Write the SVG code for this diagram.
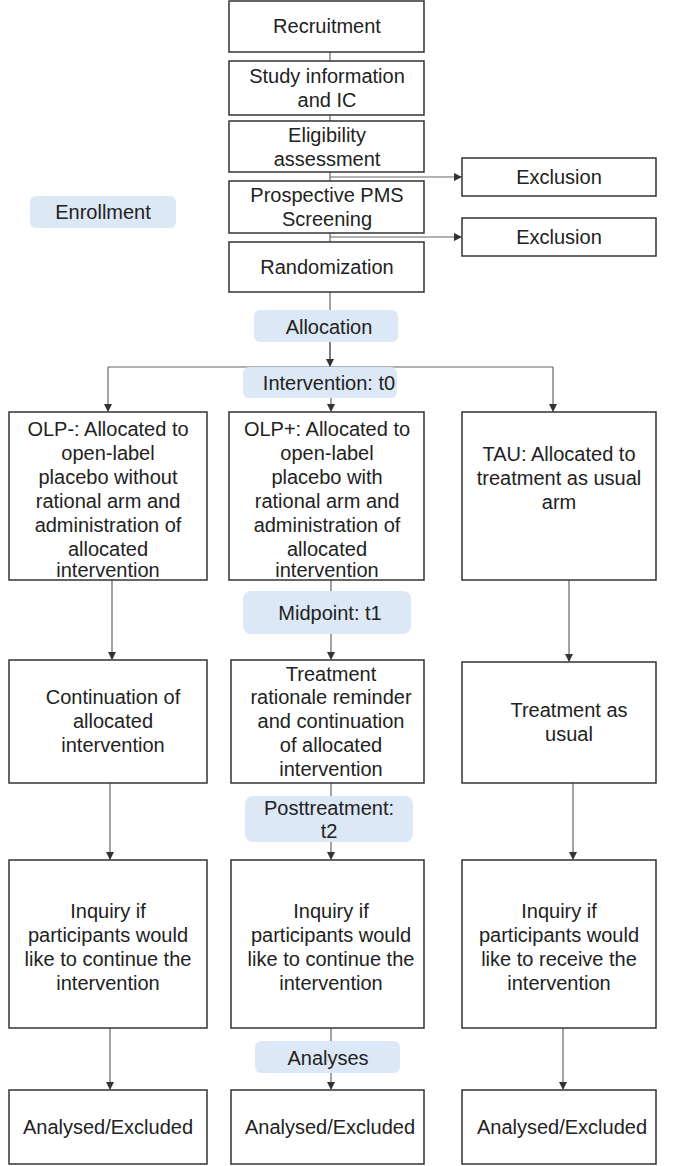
<svg xmlns="http://www.w3.org/2000/svg" width="674" height="1166" viewBox="0 0 674 1166">
<style>
.b{fill:#fff;stroke:#333;stroke-width:1.5}
.l{fill:#dce8f5}
text{font-family:"Liberation Sans",Arial,sans-serif;font-size:20px;fill:#222;text-anchor:middle}
.c{stroke:#666;stroke-width:1.2;fill:none}
.ar{marker-end:url(#a)}
</style>
<defs><marker id="a" viewBox="0 0 8 8" refX="7" refY="4" markerWidth="7" markerHeight="7" orient="auto"><path d="M0,0L8,4L0,8z" fill="#333"/></marker></defs>
<rect width="674" height="1166" fill="#fff"/>
<g id="connectors">
<path class="c" d="M330,52V61M330,115V121M330,172V181M330,233V242M330,292V310M330,342V360M108,367H553M331,580V591M331,783V796M331,1028V1041"/>
<path class="c ar" d="M330,177H461"/>
<path class="c ar" d="M330,237H461"/>
<path class="c ar" d="M330,342V366"/>
<path class="c ar" d="M108,367V411"/>
<path class="c ar" d="M331,398V411"/>
<path class="c ar" d="M553,367V411"/>
<path class="c ar" d="M112,580V659"/>
<path class="c ar" d="M331,634V659"/>
<path class="c ar" d="M569,580V661"/>
<path class="c ar" d="M110,783V859"/>
<path class="c ar" d="M331,842V859"/>
<path class="c ar" d="M573,783V859"/>
<path class="c ar" d="M110,1028V1089"/>
<path class="c ar" d="M331,1073V1089"/>
<path class="c ar" d="M563,1028V1089"/>
</g>
<g id="enrollment"><rect class="l" x="30" y="196" width="146" height="32" rx="6"/><text x="103" y="219">Enrollment</text></g>
<g id="recruitment"><rect class="b" x="229" y="1" width="195" height="51"/><text x="327" y="33">Recruitment</text></g>
<g id="studyinfo"><rect class="b" x="229" y="61" width="195" height="54"/><text x="327" y="83">Study information</text><text x="327" y="107">and IC</text></g>
<g id="eligibility"><rect class="b" x="229" y="121" width="195" height="51"/><text x="327" y="142">Eligibility</text><text x="327" y="166">assessment</text></g>
<g id="screening"><rect class="b" x="229" y="181" width="195" height="52"/><text x="327" y="202">Prospective PMS</text><text x="327" y="226">Screening</text></g>
<g id="randomization"><rect class="b" x="229" y="242" width="195" height="50"/><text x="327" y="274">Randomization</text></g>
<g id="exclusion1"><rect class="b" x="462" y="158" width="194" height="38"/><text x="559" y="184">Exclusion</text></g>
<g id="exclusion2"><rect class="b" x="462" y="218" width="194" height="38"/><text x="559" y="244">Exclusion</text></g>
<g id="allocation"><rect class="l" x="254" y="310" width="144" height="32" rx="6"/><text x="329" y="334">Allocation</text></g>
<g id="t0"><rect class="l" x="243" y="367" width="154" height="31" rx="6"/><text x="329" y="390">Intervention: t0</text></g>
<g id="olpminus"><rect class="b" x="9" y="412" width="198" height="168"/><text x="108" y="436">OLP-: Allocated to</text><text x="108" y="460">open-label</text><text x="108" y="484">placebo without</text><text x="108" y="508">rational arm and</text><text x="108" y="532">administration of</text><text x="108" y="556">allocated</text><text x="108" y="577">intervention</text></g>
<g id="olpplus"><rect class="b" x="229" y="412" width="195" height="168"/><text x="327" y="436">OLP+: Allocated to</text><text x="327" y="460">open-label</text><text x="327" y="484">placebo with</text><text x="327" y="508">rational arm and</text><text x="327" y="532">administration of</text><text x="327" y="556">allocated</text><text x="327" y="577">intervention</text></g>
<g id="tau"><rect class="b" x="462" y="412" width="194" height="168"/><text x="559" y="461">TAU: Allocated to</text><text x="559" y="485">treatment as usual</text><text x="559" y="509">arm</text></g>
<g id="t1"><rect class="l" x="243" y="591" width="168" height="43" rx="8"/><text x="330" y="620">Midpoint: t1</text></g>
<g id="cont1"><rect class="b" x="9" y="660" width="198" height="123"/><text x="113" y="704">Continuation of</text><text x="113" y="728">allocated</text><text x="113" y="752">intervention</text></g>
<g id="cont2"><rect class="b" x="231" y="660" width="193" height="123"/><text x="331" y="681">Treatment</text><text x="331" y="704">rationale reminder</text><text x="331" y="728">and continuation</text><text x="331" y="752">of allocated</text><text x="331" y="776">intervention</text></g>
<g id="cont3"><rect class="b" x="462" y="662" width="194" height="121"/><text x="569" y="717">Treatment as</text><text x="569" y="741">usual</text></g>
<g id="t2"><rect class="l" x="245" y="796" width="168" height="46" rx="8"/><text x="329" y="815">Posttreatment:</text><text x="329" y="838">t2</text></g>
<g id="inq1"><rect class="b" x="9" y="860" width="198" height="168"/><text x="108" y="918">Inquiry if</text><text x="108" y="942">participants would</text><text x="108" y="966">like to continue the</text><text x="108" y="990">intervention</text></g>
<g id="inq2"><rect class="b" x="231" y="860" width="193" height="168"/><text x="331" y="918">Inquiry if</text><text x="331" y="942">participants would</text><text x="331" y="966">like to continue the</text><text x="331" y="990">intervention</text></g>
<g id="inq3"><rect class="b" x="462" y="860" width="194" height="168"/><text x="559" y="918">Inquiry if</text><text x="559" y="942">participants would</text><text x="559" y="966">like to receive the</text><text x="559" y="990">intervention</text></g>
<g id="analyses"><rect class="l" x="255" y="1041" width="145" height="32" rx="6"/><text x="328" y="1065">Analyses</text></g>
<g id="an1"><rect class="b" x="9" y="1090" width="198" height="74"/><text x="108" y="1134">Analysed/Excluded</text></g>
<g id="an2"><rect class="b" x="231" y="1090" width="193" height="74"/><text x="330" y="1134">Analysed/Excluded</text></g>
<g id="an3"><rect class="b" x="462" y="1090" width="194" height="74"/><text x="562" y="1134">Analysed/Excluded</text></g>
</svg>
